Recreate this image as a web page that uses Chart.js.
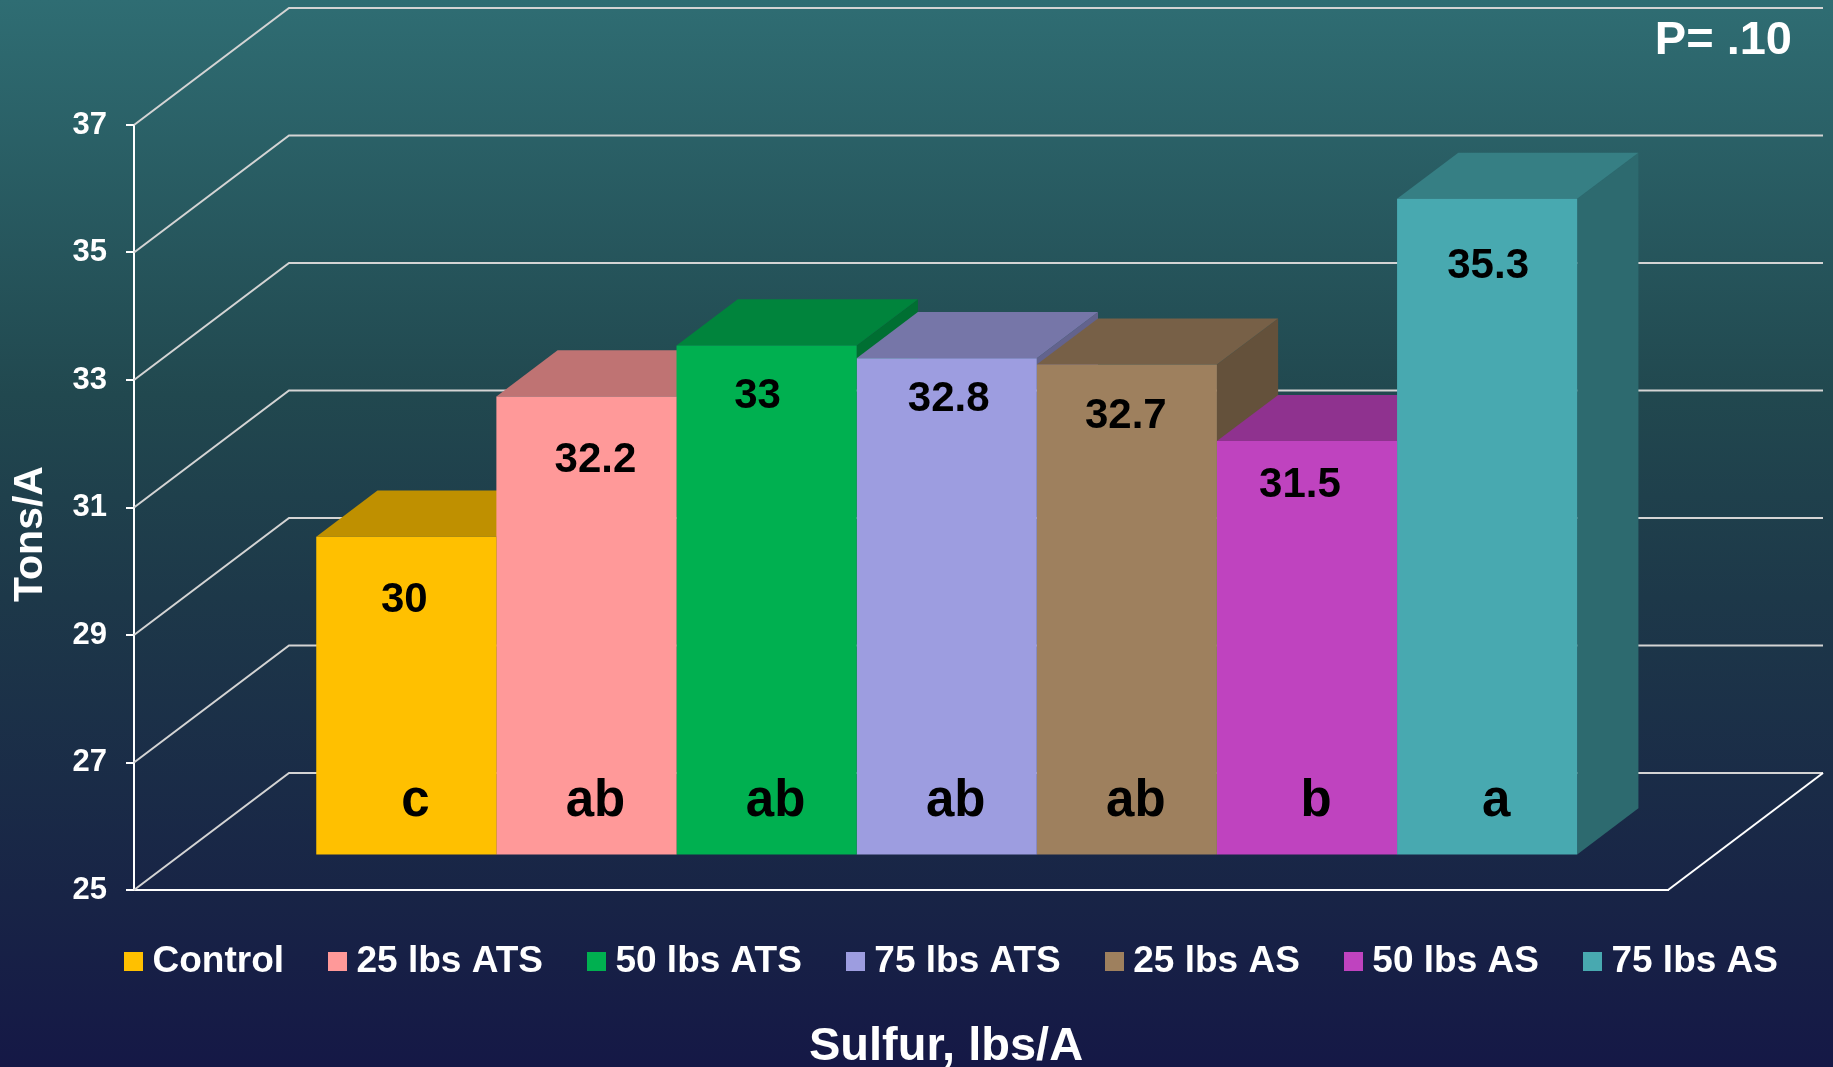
<!DOCTYPE html>
<html>
<head>
<meta charset="utf-8">
<script src="https://cdn.jsdelivr.net/npm/chart.js@4.4.1/dist/chart.umd.min.js"></script>
<style>
  html, body { margin: 0; padding: 0; background: #151846; }
  #wrap { width: 1833px; height: 1067px; position: relative; }
</style>
</head>
<body>
<div id="wrap"><canvas id="c" width="1833" height="1067"></canvas></div>
<script>
// ---- data ----
const categories = ['Control', '25 lbs ATS', '50 lbs ATS', '75 lbs ATS', '25 lbs AS', '50 lbs AS', '75 lbs AS'];
const yieldValues = [30, 32.2, 33, 32.8, 32.7, 31.5, 35.3];
const meanGroups = ['c', 'ab', 'ab', 'ab', 'ab', 'b', 'a'];
const yTicks = [25, 27, 29, 31, 33, 35, 37];
const yTitle = 'Tons/A';
const xTitle = 'Sulfur, lbs/A';
const pValueNote = 'P= .10';

// ---- styles ----
const frontColors = ['#FFC000', '#FF9999', '#00B050', '#9D9DE0', '#9E805E', '#BF43BF', '#48A9B0'];
const valueLabelDrop = [75, 76, 63, 53, 63, 56, 79];
const valueLabelShift = [-2, 9, -9, 2, -1, -7, 1];
const FONT = '"Liberation Sans", Arial, Helvetica, sans-serif';
const DEPTH = { dx: 155, dy: 117, front: 0.295, bar: 0.395 };

Chart.defaults.font.family = FONT;

function shade(hex, f) {
  const n = parseInt(hex.slice(1), 16);
  const r = Math.round(((n >> 16) & 255) * f), g = Math.round(((n >> 8) & 255) * f), b = Math.round((n & 255) * f);
  return 'rgb(' + r + ',' + g + ',' + b + ')';
}
function swatch(color) {
  const c = document.createElement('canvas');
  c.width = 19; c.height = 19;
  const x = c.getContext('2d');
  x.fillStyle = color; x.fillRect(0, 0, 19, 19);
  return c;
}

const threeD = {
  id: 'threeD',
  beforeDraw(chart) {
    const ctx = chart.ctx;
    const g = ctx.createLinearGradient(0, 0, 0, chart.height);
    g.addColorStop(0, '#2f6d73');
    g.addColorStop(0.37, '#21484f');
    g.addColorStop(0.56, '#1d3849');
    g.addColorStop(0.84, '#182446');
    g.addColorStop(1, '#151846');
    ctx.save();
    ctx.fillStyle = g;
    ctx.fillRect(0, 0, chart.width, chart.height);
    ctx.restore();
  },
  afterLayout(chart) {
    chart.legend.left += 39; chart.legend.right += 39;
    chart.titleBlock.left += 29.5; chart.titleBlock.right += 29.5;
    const s = chart.scales.y;
    if (!s._titlePatched) {
      const orig = s.drawTitle;
      s.drawTitle = function () {
        this.ctx.save(); this.ctx.translate(0, 26.5); orig.call(this); this.ctx.restore();
      };
      s._titlePatched = true;
    }
  },
  beforeDatasetsDraw(chart) {
    const ctx = chart.ctx, a = chart.chartArea, ys = chart.scales.y;
    ctx.save();
    ctx.lineWidth = 2;
    ctx.strokeStyle = '#d4d4d4';
    yTicks.forEach(v => {
      const py = ys.getPixelForValue(v);
      ctx.beginPath();
      ctx.moveTo(a.left, py);
      ctx.lineTo(a.left + DEPTH.dx, py - DEPTH.dy);
      ctx.lineTo(a.right + DEPTH.dx, py - DEPTH.dy);
      ctx.stroke();
    });
    ctx.strokeStyle = '#ffffff';
    ctx.beginPath();
    ctx.moveTo(a.right, a.bottom);
    ctx.lineTo(a.right + DEPTH.dx, a.bottom - DEPTH.dy);
    ctx.stroke();

    const fx = DEPTH.dx * DEPTH.front, fy = DEPTH.dy * DEPTH.front;
    const bx = DEPTH.dx * DEPTH.bar, by = DEPTH.dy * DEPTH.bar;
    for (let i = 0; i < chart.data.datasets.length; i++) {
      const el = chart.getDatasetMeta(i).data[0];
      const L = el.x - el.width / 2 + fx, R = el.x + el.width / 2 + fx;
      const T = el.y - fy, B = Math.min(el.base, a.bottom) - fy;
      const col = frontColors[i];
      ctx.fillStyle = shade(col, 0.63);
      ctx.beginPath();
      ctx.moveTo(R, T); ctx.lineTo(R + bx, T - by); ctx.lineTo(R + bx, B - by); ctx.lineTo(R, B);
      ctx.closePath(); ctx.fill();
      ctx.fillStyle = shade(col, 0.75);
      ctx.beginPath();
      ctx.moveTo(L, T); ctx.lineTo(R, T); ctx.lineTo(R + bx, T - by); ctx.lineTo(L + bx, T - by);
      ctx.closePath(); ctx.fill();
    }
    ctx.restore();
    ctx.save();
    ctx.translate(fx, -fy);
  },
  afterDatasetsDraw(chart) {
    const ctx = chart.ctx, a = chart.chartArea;
    ctx.restore();
    const fx = DEPTH.dx * DEPTH.front, fy = DEPTH.dy * DEPTH.front;
    ctx.save();
    ctx.fillStyle = '#000000';
    ctx.textAlign = 'center';
    ctx.textBaseline = 'alphabetic';
    for (let i = 0; i < chart.data.datasets.length; i++) {
      const el = chart.getDatasetMeta(i).data[0];
      const cx = el.x + fx, top = el.y - fy;
      ctx.font = 'bold 42px ' + FONT;
      ctx.fillText(String(yieldValues[i]), cx + valueLabelShift[i], top + valueLabelDrop[i]);
      ctx.font = 'bold 51px ' + FONT;
      ctx.fillText(meanGroups[i], cx + 9, a.bottom - fy - 39);
    }
    ctx.fillStyle = '#ffffff';
    ctx.textAlign = 'right';
    ctx.font = 'bold 47px ' + FONT;
    ctx.fillText(pValueNote, 1792, 54);
    ctx.restore();
  }
};

const yMin = yTicks[0], yMax = yTicks[yTicks.length - 1];

const datasets = categories.map((name, i) => ({
  label: name,
  data: [yieldValues[i]],
  backgroundColor: frontColors[i],
  borderWidth: 0,
  base: yMin,
  yAxisID: 'y'
}));

new Chart(document.getElementById('c'), {
  type: 'bar',
  data: { labels: [''], datasets },
  options: {
    responsive: false,
    animation: false,
    layout: { padding: { top: 125, left: 0, right: 0, bottom: 0 } },
    datasets: { bar: { categoryPercentage: 0.822, barPercentage: 1.0 } },
    scales: {
      x: {
        type: 'category',
        ticks: { display: false },
        grid: { display: false },
        border: { display: true, color: '#ffffff', width: 2 },
        afterFit(s) { s.height = 0; }
      },
      y: {
        type: 'linear',
        position: 'left',
        min: yMin, max: yMax,
        afterBuildTicks(s) { s.ticks = yTicks.map(v => ({ value: v })); },
        ticks: { color: '#ffffff', font: { size: 31, weight: 'bold' }, padding: 19 },
        grid: { drawOnChartArea: false, drawTicks: true, tickLength: 8, color: '#ffffff', lineWidth: 2 },
        border: { display: true, color: '#ffffff', width: 2 },
        title: { display: true, text: yTitle, color: '#ffffff', font: { size: 41, weight: 'bold', lineHeight: 1.2 }, padding: { top: 6, bottom: 0 } },
        afterFit(s) { s.width = 134; }
      },
      yR: {
        type: 'linear',
        position: 'right',
        display: true,
        ticks: { display: false },
        grid: { display: false, drawTicks: false },
        border: { display: false },
        afterFit(s) { s.width = 165; }
      }
    },
    plugins: {
      tooltip: { enabled: false },
      legend: {
        position: 'bottom',
        labels: {
          color: '#ffffff',
          font: { size: 37, weight: 'bold' },
          padding: 53,
          usePointStyle: true,
          pointStyleWidth: 1,
          boxHeight: 19,
          generateLabels(chart) {
            const items = Chart.defaults.plugins.legend.labels.generateLabels(chart);
            items.forEach(it => { it.pointStyle = swatch(frontColors[it.datasetIndex]); });
            return items;
          }
        }
      },
      title: {
        display: true,
        position: 'bottom',
        text: xTitle,
        color: '#ffffff',
        font: { size: 47, weight: 'bold', lineHeight: 0.8 },
        padding: { top: 38.4, bottom: 1 }
      }
    }
  },
  plugins: [threeD]
});
</script>
</body>
</html>
